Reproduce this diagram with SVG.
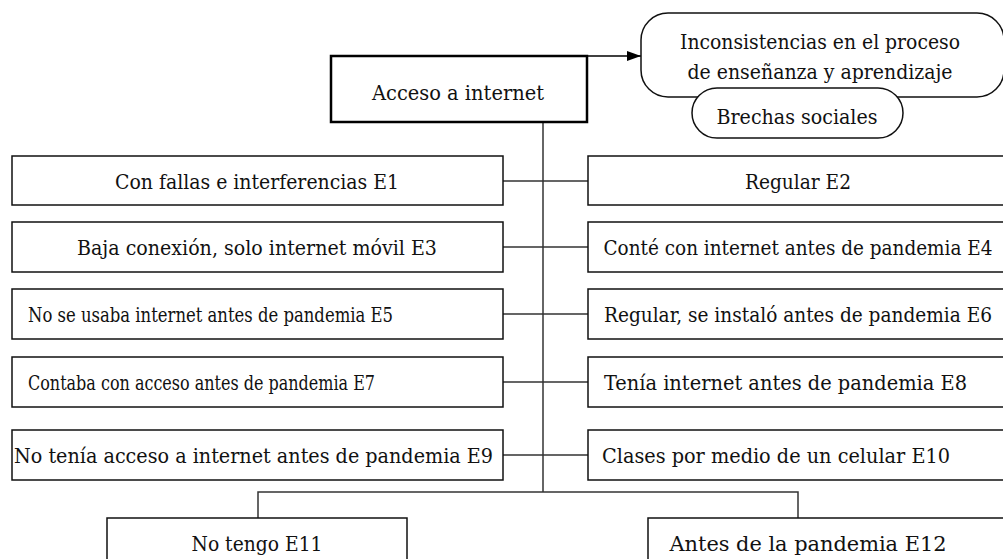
<svg xmlns="http://www.w3.org/2000/svg" width="1003" height="559" viewBox="0 0 1003 559">
<style>
.box{fill:#fff;stroke:#111;stroke-width:1.5}
.main{fill:#fff;stroke:#000;stroke-width:2.5}
.rbox{fill:#fff;stroke:#111;stroke-width:1.5}
.t{font-family:"DejaVu Serif Condensed","DejaVu Serif","Liberation Serif",serif;font-size:21px;fill:#111}
.c{text-anchor:middle}
.ln{fill:none;stroke:#333;stroke-width:1.5}
</style>
<defs>
<marker id="arr" markerWidth="14" markerHeight="10" refX="14" refY="5" orient="auto" markerUnits="userSpaceOnUse">
<path d="M0,0 L14,5 L0,10 Z" fill="#000"/>
</marker>
</defs>
<rect width="1003" height="559" fill="#fff"/>
<g id="connectors">
<path class="ln" d="M543,122 V492"/>
<path class="ln" d="M503,181 H588 M503,247 H588 M503,314 H588 M503,382 H588 M503,455 H588"/>
<path class="ln" d="M258,518 V492 H798 V518"/>
<path d="M587,56 H641" fill="none" stroke="#000" stroke-width="1.5" marker-end="url(#arr)"/>
</g>
<g id="n-acceso">
<rect class="main" x="331" y="56" width="256" height="66"/>
<text class="t c" x="458" y="100" textLength="172" lengthAdjust="spacingAndGlyphs">Acceso a internet</text>
</g>
<g id="n-inconsistencias">
<rect class="rbox" x="641" y="13" width="363" height="84" rx="27" ry="27"/>
<text class="t c" x="820" y="49" textLength="280" lengthAdjust="spacingAndGlyphs">Inconsistencias en el proceso</text>
<text class="t c" x="820" y="79" textLength="265" lengthAdjust="spacingAndGlyphs">de enseñanza y aprendizaje</text>
</g>
<g id="n-brechas">
<rect class="rbox" x="692" y="88" width="211" height="50" rx="25" ry="25"/>
<text class="t c" x="797" y="124" textLength="161" lengthAdjust="spacingAndGlyphs">Brechas sociales</text>
</g>
<g id="n-e1">
<rect class="box" x="12" y="156" width="491" height="49"/>
<text class="t c" x="257" y="189" textLength="284" lengthAdjust="spacingAndGlyphs">Con fallas e interferencias E1</text>
</g>
<g id="n-e2">
<rect class="box" x="588" y="156" width="420" height="49"/>
<text class="t c" x="798" y="189" textLength="106" lengthAdjust="spacingAndGlyphs">Regular E2</text>
</g>
<g id="n-e3">
<rect class="box" x="12" y="222" width="491" height="50"/>
<text class="t c" x="257" y="255" textLength="360" lengthAdjust="spacingAndGlyphs">Baja conexión, solo internet móvil E3</text>
</g>
<g id="n-e4">
<rect class="box" x="588" y="222" width="420" height="50"/>
<text class="t c" x="798" y="255" textLength="389" lengthAdjust="spacingAndGlyphs">Conté con internet antes de pandemia E4</text>
</g>
<g id="n-e5">
<rect class="box" x="12" y="289" width="491" height="50"/>
<text class="t" x="28" y="322" textLength="365" lengthAdjust="spacingAndGlyphs">No se usaba internet antes de pandemia E5</text>
</g>
<g id="n-e6">
<rect class="box" x="588" y="289" width="420" height="50"/>
<text class="t" x="604" y="322" textLength="388" lengthAdjust="spacingAndGlyphs">Regular, se instaló antes de pandemia E6</text>
</g>
<g id="n-e7">
<rect class="box" x="12" y="357" width="491" height="50"/>
<text class="t" x="28" y="390" textLength="347" lengthAdjust="spacingAndGlyphs">Contaba con acceso antes de pandemia E7</text>
</g>
<g id="n-e8">
<rect class="box" x="588" y="357" width="420" height="50"/>
<text class="t" x="604" y="390" textLength="363" lengthAdjust="spacingAndGlyphs">Tenía internet antes de pandemia E8</text>
</g>
<g id="n-e9">
<rect class="box" x="12" y="430" width="491" height="50"/>
<text class="t" x="14" y="463" textLength="479" lengthAdjust="spacingAndGlyphs">No tenía acceso a internet antes de pandemia E9</text>
</g>
<g id="n-e10">
<rect class="box" x="588" y="430" width="420" height="50"/>
<text class="t" x="602" y="463" textLength="348" lengthAdjust="spacingAndGlyphs">Clases por medio de un celular E10</text>
</g>
<g id="n-e11">
<rect class="box" x="107" y="518" width="300" height="60"/>
<text class="t c" x="257" y="551" textLength="131" lengthAdjust="spacingAndGlyphs">No tengo E11</text>
</g>
<g id="n-e12">
<rect class="box" x="648" y="518" width="362" height="60"/>
<text class="t c" x="808" y="551" textLength="277" lengthAdjust="spacingAndGlyphs">Antes de la pandemia E12</text>
</g>
</svg>
